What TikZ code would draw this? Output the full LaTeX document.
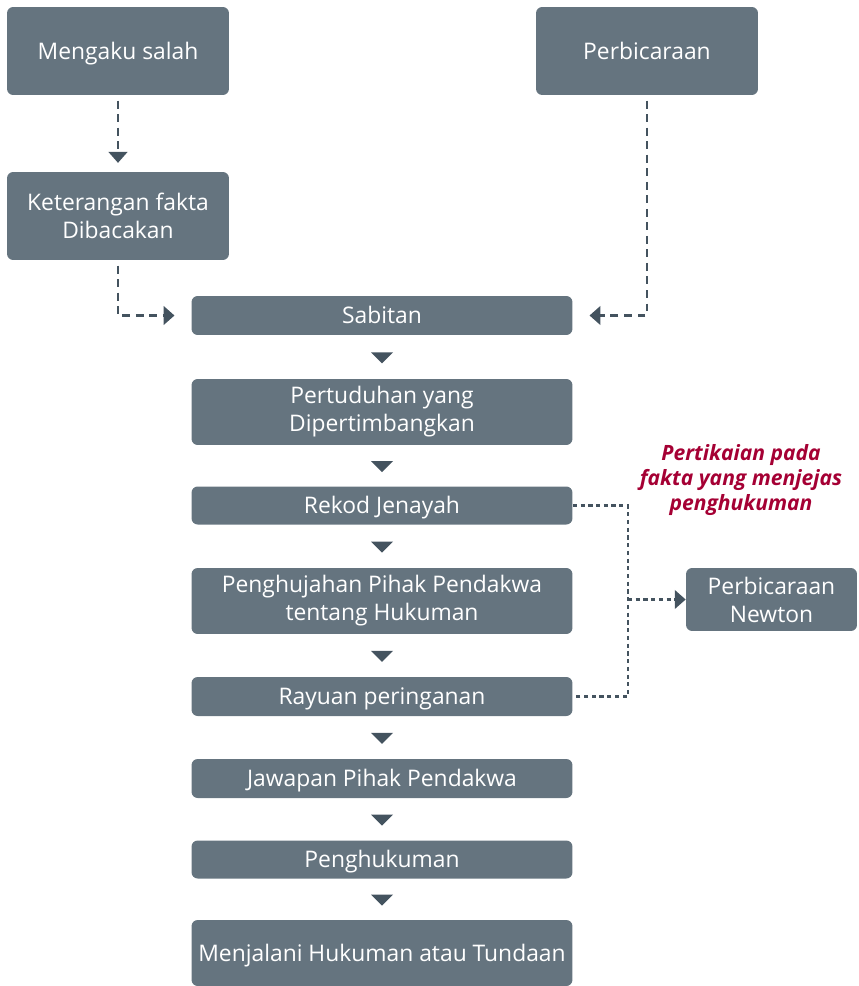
\documentclass[tikz,border=0pt]{standalone}
\usepackage{fontspec}
\setmainfont{Open Sans}
\usetikzlibrary{arrows.meta,shapes.geometric}

\definecolor{boxgray}{RGB}{101,116,127}
\definecolor{linkgray}{RGB}{68,83,95}
\definecolor{notered}{RGB}{165,0,52}

\begin{document}
\begin{tikzpicture}[x=0.02cm, y=-0.02cm]
		\tikzstyle{every node}=[align=center, font=\fontsize{13}{15.9}\selectfont]
		\tikzstyle{box}=[fill=boxgray, text=white, rounded corners=3.5pt, inner sep=0pt]
		\tikzstyle{oneline}=[text height=9.3pt, text depth=0pt]
		\tikzstyle{tri}=[isosceles triangle, isosceles triangle apex angle=90, shape border rotate=-90, fill=linkgray, inner sep=0pt, minimum width=0.42cm, minimum height=0.22cm]
		\tikzstyle{dashlink}=[linkgray, line width=1.6pt, dash pattern=on 4.5pt off 3.2pt, -{Triangle[width=10.5pt, length=6.2pt]}]
		\tikzstyle{dotlink}=[linkgray, line width=1.6pt, dash pattern=on 2.4pt off 2pt]
		\useasboundingbox (0,0) rectangle (858,986);

			\node[box, oneline, minimum width=4.44cm, minimum height=1.76cm] (mengaku) at (118, 51) {Mengaku salah};
			\node[box, oneline, minimum width=4.44cm, minimum height=1.76cm] (perbicaraan) at (647, 51) {Perbicaraan};
			\node[box, minimum width=4.44cm, minimum height=1.76cm] (keterangan) at (118, 216) {Keterangan fakta\\Dibacakan};
			\node[box, oneline, minimum width=7.62cm, minimum height=0.78cm] (sabitan) at (382, 315.5) {Sabitan};
			\node[box, minimum width=7.62cm, minimum height=1.32cm] (pertuduhan) at (382, 412) {Pertuduhan yang\\Dipertimbangkan};
			\node[box, oneline, minimum width=7.62cm, minimum height=0.76cm] (rekod) at (382, 505.5) {Rekod Jenayah};
			\node[box, minimum width=7.62cm, minimum height=1.32cm] (penghujahan) at (382, 601) {Penghujahan Pihak Pendakwa\\tentang Hukuman};
			\node[box, oneline, minimum width=7.62cm, minimum height=0.78cm] (rayuan) at (382, 696.5) {Rayuan peringanan};
			\node[box, oneline, minimum width=7.62cm, minimum height=0.78cm] (jawapan) at (382, 778.5) {Jawapan Pihak Pendakwa};
			\node[box, oneline, minimum width=7.62cm, minimum height=0.76cm] (penghukuman) at (382, 859.5) {Penghukuman};
			\node[box, oneline, minimum width=7.62cm, minimum height=1.32cm] (menjalani) at (382, 953) {Menjalani Hukuman atau Tundaan};
			\node[box, minimum width=3.42cm, minimum height=1.26cm] (newton) at (771.5, 599.5) {Perbicaraan\\Newton};
			\node[text=notered, font=\fontsize{12}{14.2}\selectfont\bfseries\itshape] (pertikaian) at (741, 480) {Pertikaian pada\\fakta yang menjejas\\penghukuman};
			\coordinate (junction) at (628, 599.5);

			\path (sabitan) -- node[tri] {} (pertuduhan);
			\path (pertuduhan) -- node[tri] {} (rekod);
			\path (rekod) -- node[tri] {} (penghujahan);
			\path (penghujahan) -- node[tri] {} (rayuan);
			\path (rayuan) -- node[tri] {} (jawapan);
			\path (jawapan) -- node[tri] {} (penghukuman);
			\path (penghukuman) -- node[tri] {} (menjalani);

			\draw[dashlink, shorten <=3pt, shorten >=5pt] (mengaku) -- (keterangan);
			\draw[dashlink, shorten <=3pt, shorten >=9.5pt] (keterangan.south) |- (sabitan.west);
			\draw[dashlink, shorten <=3pt, shorten >=9.5pt] (perbicaraan.south) |- (sabitan.east);
			\draw[dotlink] (rekod.east) -| (junction) |- (rayuan.east);
			\draw[dotlink, -{Triangle[width=10.5pt, length=6.2pt]}] (junction) -- (newton.west);
		\end{tikzpicture}
\end{document}
